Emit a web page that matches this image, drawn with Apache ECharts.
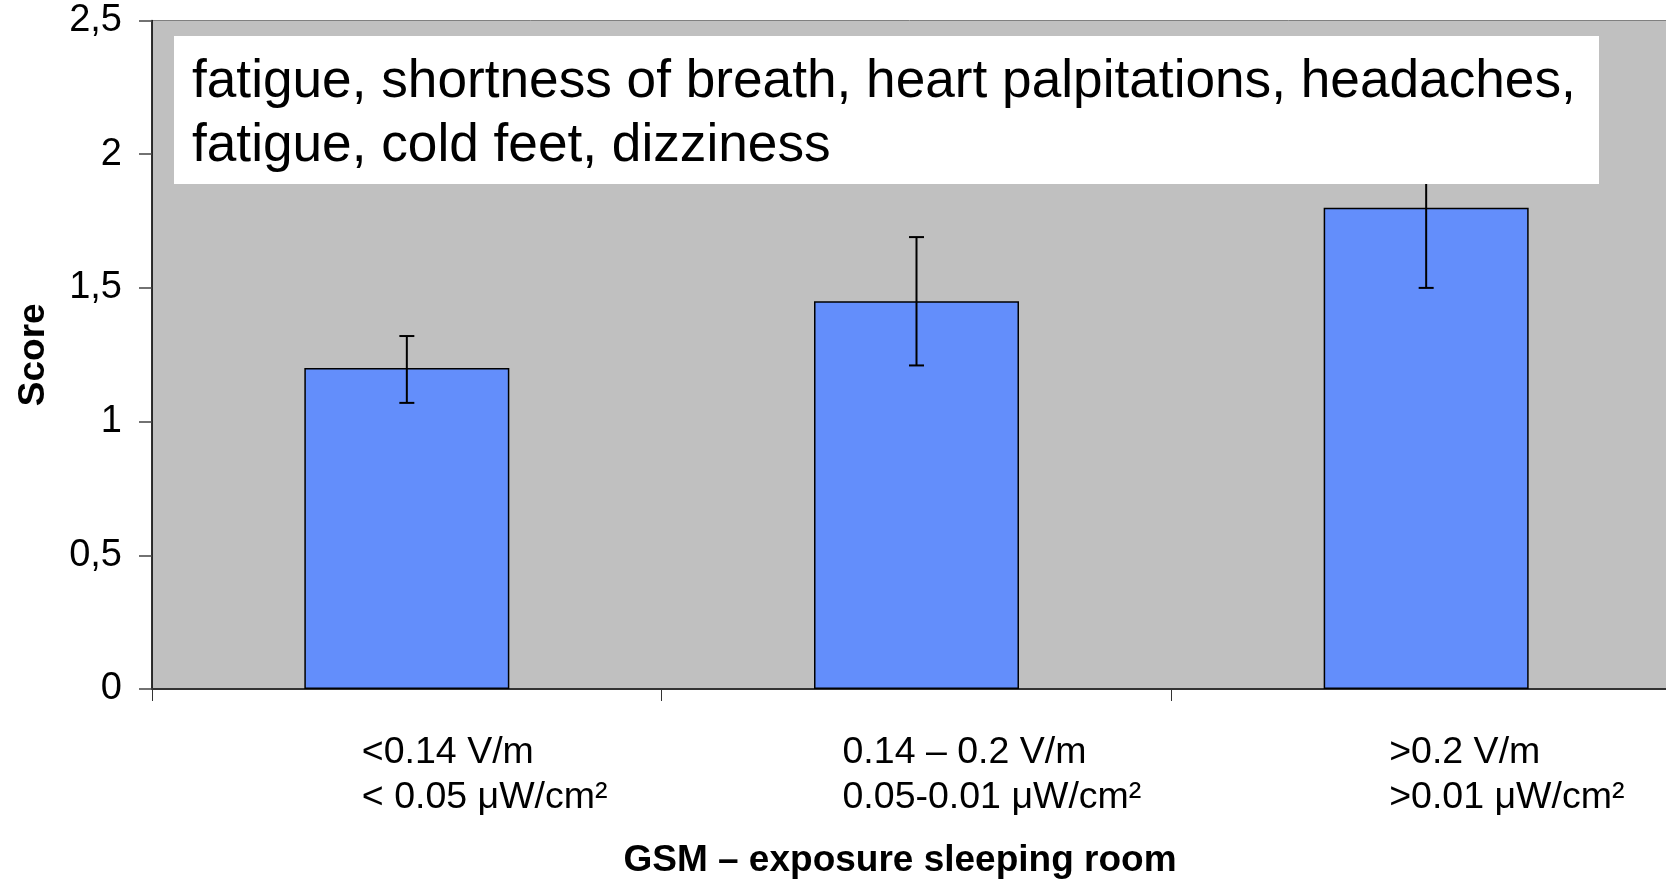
<!DOCTYPE html>
<html>
<head>
<meta charset="utf-8">
<script src="https://cdn.jsdelivr.net/npm/echarts@6/dist/echarts.min.js"></script>
<style>
html, body { margin: 0; padding: 0; background: #fff; }
#chart { width: 1666px; height: 880px; }
</style>
</head>
<body>
<div id="chart"></div>
<script>
// exposure groups, two text lines each
var categories = [
  '<0.14 V/m\n< 0.05 μW/cm²',
  '0.14 – 0.2 V/m\n0.05-0.01 μW/cm²',
  '>0.2 V/m\n>0.01 μW/cm²'
];
var scores = [1.2, 1.45, 1.8];
var errLow = [1.07, 1.21, 1.5];
var errHigh = [1.32, 1.69, 2.1];
var yTickLabels = ['0', '0,5', '1', '1,5', '2', '2,5'];
var symptoms = 'fatigue, shortness of breath, heart palpitations, headaches,\nfatigue, cold feet, dizziness';

// labels in the original are left aligned and sit a bit off the bar centres
var labelShift = [-45, -74, -37];
var FONT = '"Liberation Sans", Arial, sans-serif';

var chart = echarts.init(document.getElementById('chart'));
chart.setOption({
  animation: false,
  grid: {
    left: 152, top: 20.5, right: -15, bottom: 191,
    outerBoundsMode: 'none',
    show: true, backgroundColor: '#c0c0c0', borderColor: '#808080', borderWidth: 1
  },
  xAxis: {
    type: 'category',
    data: categories.map(function (c, i) {
      return { value: c, textStyle: { align: 'left', padding: [0, 0, 0, labelShift[i]] } };
    }),
    name: 'GSM – exposure sleeping room',
    nameLocation: 'middle',
    nameGap: 153,
    nameTextStyle: { fontFamily: FONT, fontSize: 37, fontWeight: 'bold', color: '#000', padding: [0, 33, 0, 0] },
    axisLine: { show: true, lineStyle: { color: '#333', width: 2 } },
    axisTick: { show: true, length: 12, lineStyle: { color: '#333', width: 1 } },
    axisLabel: { interval: 0, margin: 41, align: 'left', fontFamily: FONT, fontSize: 37.5, lineHeight: 45, color: '#000' },
    splitLine: { show: false }
  },
  yAxis: {
    type: 'value', min: 0, max: 2.5, interval: 0.5,
    name: 'Score',
    nameLocation: 'middle',
    nameGap: 100,
    nameTextStyle: { fontFamily: FONT, fontSize: 37, fontWeight: 'bold', color: '#000' },
    axisLine: { show: true, lineStyle: { color: '#000', width: 1.5 } },
    axisTick: { show: true, length: 13, lineStyle: { color: '#444', width: 1.5 } },
    axisLabel: {
      margin: 30, fontFamily: FONT, fontSize: 38, color: '#000', padding: [22, 0, 0, 0],
      formatter: function (v) { return yTickLabels[Math.round(v / 0.5)]; }
    },
    splitLine: { show: false }
  },
  series: [
    {
      type: 'bar',
      data: scores,
      barWidth: 205,
      itemStyle: { color: '#638efb', borderColor: '#000', borderWidth: 1.5 }
    },
    {
      type: 'custom',
      z: 5,
      data: scores.map(function (s, i) { return [i, errLow[i], errHigh[i]]; }),
      encode: { x: 0, y: [1, 2] },
      renderItem: function (params, api) {
        var i = api.value(0);
        var lo = api.coord([i, api.value(1)]);
        var hi = api.coord([i, api.value(2)]);
        var half = 7.5;
        var st = { stroke: '#000', lineWidth: 2 };
        return {
          type: 'group',
          children: [
            { type: 'line', shape: { x1: hi[0], y1: hi[1], x2: lo[0], y2: lo[1] }, style: st },
            { type: 'line', shape: { x1: hi[0] - half, y1: hi[1], x2: hi[0] + half, y2: hi[1] }, style: st },
            { type: 'line', shape: { x1: lo[0] - half, y1: lo[1], x2: lo[0] + half, y2: lo[1] }, style: st }
          ]
        };
      }
    }
  ],
  graphic: [
    { type: 'rect', z: 100, shape: { x: 174, y: 36, width: 1425, height: 148 }, style: { fill: '#fff' } },
    {
      type: 'text', z: 101, x: 192, y: 50,
      style: { text: symptoms, font: '53.2px ' + FONT, fill: '#000', lineHeight: 64, verticalAlign: 'top' }
    }
  ]
});
</script>
</body>
</html>
